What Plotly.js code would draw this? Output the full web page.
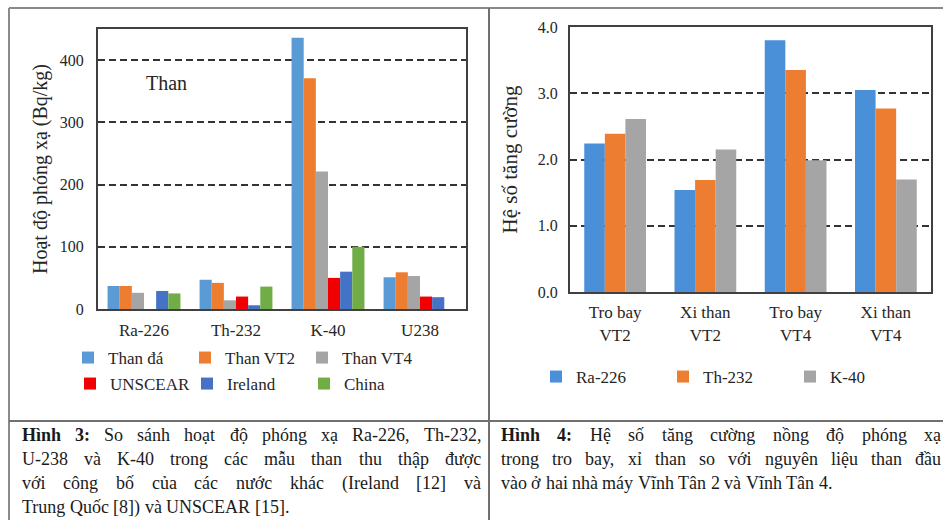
<!DOCTYPE html>
<html>
<head>
<meta charset="utf-8">
<script src="https://cdn.plot.ly/plotly-3.0.1.min.js"></script>
<style>html,body{margin:0;padding:0;background:#fff;}#chart{width:943px;height:520px;}</style>
</head>
<body>
<div id="chart"></div>
<script>
// ---------- Data (Hình 3) ----------
const elements = ['Ra-226', 'Th-232', 'K-40', 'U238'];
const thanDa  = [37, 47, 436, 51];
const thanVT2 = [37, 42, 371, 59];
const thanVT4 = [26, 14, 221, 53];
const unscear = [null, 20, 50, 20];
const ireland = [29, 6, 60, 19];
const china   = [25, 36, 100, null];
const seriesNames3 = ['Than đá', 'Than VT2', 'Than VT4', 'UNSCEAR', 'Ireland', 'China'];
const yTicks3 = [0, 100, 200, 300, 400];

// ---------- Data (Hình 4) ----------
const samples = ['Tro bay<br>VT2', 'Xi than<br>VT2', 'Tro bay<br>VT4', 'Xi than<br>VT4'];
const ra226 = [2.24, 1.54, 3.80, 3.05];
const th232 = [2.39, 1.69, 3.35, 2.77];
const k40   = [2.61, 2.15, 1.99, 1.70];
const seriesNames4 = ['Ra-226', 'Th-232', 'K-40'];
const yTicks4 = [0, 1, 2, 3, 4];

// ---------- Captions ----------
const caption3 = [
  'Hình 3:| So sánh hoạt độ phóng xạ Ra-226, Th-232,',
  'U-238 và K-40 trong các mẫu than thu thập được',
  'với công bố của các nước khác (Ireland [12] và',
  'Trung Quốc [8]) và UNSCEAR [15].'
];
const caption4 = [
  'Hình 4:| Hệ số tăng cường nồng độ phóng xạ',
  'trong tro bay, xỉ than so với nguyên liệu than đầu',
  'vào ở hai nhà máy Vĩnh Tân 2 và Vĩnh Tân 4.'
];

// ---------- Styling ----------
const W = 943, H = 520;
const FONT = 'Liberation Serif, Times New Roman, serif';
const TXT = '#262626';
const colors3 = ['#5B9BD5', '#ED7D31', '#A5A5A5', '#F00000', '#4472C4', '#70AD47'];
const colors4 = ['#4A90D9', '#ED7D31', '#A5A5A5'];
const px = v => v / W;
const py = v => 1 - v / H;

const traces = [];
const vals3 = [thanDa, thanVT2, thanVT4, unscear, ireland, china];
const bw3 = 0.132;
vals3.forEach((v, i) => {
  traces.push({
    type: 'bar', x: elements, y: v, name: seriesNames3[i],
    xaxis: 'x', yaxis: 'y',
    marker: {color: colors3[i]},
    width: bw3, offset: -3 * bw3 + i * bw3,
    legend: i < 3 ? 'legend' : 'legend2'
  });
});
const vals4 = [ra226, th232, k40];
const bw4 = 0.228;
vals4.forEach((v, i) => {
  traces.push({
    type: 'bar', x: samples, y: v, name: seriesNames4[i],
    xaxis: 'x2', yaxis: 'y2',
    marker: {color: colors4[i]},
    width: bw4, offset: -1.5 * bw4 + i * bw4,
    legend: 'legend3'
  });
});

const axisFrame = {showline: true, linecolor: '#404040', linewidth: 2, mirror: true, ticks: '', zeroline: false, fixedrange: true};
const gridStyle = {showgrid: true, gridcolor: '#333333', gridwidth: 2, griddash: '7px,4px'};

// Table borders
const lineStyle = {color: '#8a8a8a', width: 2};
const shapes = [
  {type: 'line', xref: 'paper', yref: 'paper', x0: px(9), x1: 1, y0: py(8), y1: py(8), line: lineStyle},
  {type: 'line', xref: 'paper', yref: 'paper', x0: px(9), x1: px(9), y0: py(8), y1: 0, line: lineStyle},
  {type: 'line', xref: 'paper', yref: 'paper', x0: px(489), x1: px(489), y0: py(8), y1: 0, line: {color: '#707070', width: 2}},
  {type: 'line', xref: 'paper', yref: 'paper', x0: px(9), x1: 1, y0: py(421), y1: py(421), line: {color: '#707070', width: 2}}
];

// Justified caption text as word annotations
const capSize = 18;
const ctx = document.createElement('canvas').getContext('2d');
function tw(t, bold) {
  ctx.font = (bold ? 'bold ' : '') + capSize + 'px "Liberation Serif"';
  return ctx.measureText(t).width;
}
function layoutCaption(lines, x0, x1, y0, dy) {
  const out = [];
  lines.forEach((line, li) => {
    let tokens = [];
    const parts = line.split('|');
    if (parts.length === 2) {
      parts[0].split(' ').forEach(t => tokens.push({t, b: true}));
      parts[1].trim().split(' ').forEach(t => tokens.push({t, b: false}));
    } else {
      line.split(' ').forEach(t => tokens.push({t, b: false}));
    }
    const widths = tokens.map(k => tw(k.t, k.b));
    const sum = widths.reduce((a, b) => a + b, 0);
    const last = li === lines.length - 1;
    const gap = last ? tw(' ', false) : (x1 - x0 - sum) / (tokens.length - 1);
    let x = x0;
    tokens.forEach((k, i) => {
      out.push({
        xref: 'paper', yref: 'paper', x: px(x - 2), y: py(y0 + li * dy),
        xanchor: 'left', yanchor: 'middle', showarrow: false,
        text: k.b ? '<b>' + k.t + '</b>' : k.t,
        font: {family: FONT, size: capSize, color: '#1a1a1a'}
      });
      x += widths[i] + gap;
    });
  });
  return out;
}

const annotations = [
  {xref: 'paper', yref: 'paper', x: px(166), y: py(83), xanchor: 'center', yanchor: 'middle',
   showarrow: false, text: 'Than', font: {family: FONT, size: 20, color: TXT}}
].concat(layoutCaption(caption3, 22, 481, 435, 24))
 .concat(layoutCaption(caption4, 501, 941, 435, 24));

const legendBase = {orientation: 'h', xanchor: 'left', yanchor: 'middle', bgcolor: 'rgba(0,0,0,0)',
  font: {family: FONT, size: 17, color: TXT}, entrywidthmode: 'pixels', traceorder: 'normal'};

const layout = {
  width: W, height: H,
  margin: {l: 0, r: 0, t: 0, b: 0},
  paper_bgcolor: '#ffffff', plot_bgcolor: '#ffffff',
  font: {family: FONT, size: 17, color: TXT},
  barmode: 'group',
  showlegend: true,
  hovermode: false,
  xaxis: Object.assign({}, axisFrame, {domain: [px(98), px(466)], anchor: 'y', type: 'category',
    tickfont: {family: FONT, size: 17, color: TXT}, showgrid: false, ticklabelstandoff: 5}),
  yaxis: Object.assign({}, axisFrame, gridStyle, {domain: [py(309), py(29)], anchor: 'x', range: [0, 450],
    tickvals: yTicks3, tickfont: {family: FONT, size: 16, color: TXT}, ticklabelstandoff: 9,
    title: {text: 'Hoạt độ phóng xạ (Bq/kg)', font: {family: FONT, size: 20, color: TXT}}}),
  xaxis2: Object.assign({}, axisFrame, {domain: [px(570), px(931)], anchor: 'y2', type: 'category',
    tickfont: {family: FONT, size: 17, color: TXT}, showgrid: false, ticklabelstandoff: 4}),
  yaxis2: Object.assign({}, axisFrame, gridStyle, {domain: [py(292), py(27)], anchor: 'x2', range: [0, 4],
    tickvals: yTicks4, tickformat: '.1f', tickfont: {family: FONT, size: 16, color: TXT}, ticklabelstandoff: 7,
    title: {text: 'Hệ số tăng cường', font: {family: FONT, size: 21, color: TXT}}}),
  legend: Object.assign({}, legendBase, {x: px(68), y: py(358), entrywidth: 72}),
  legend2: Object.assign({}, legendBase, {x: px(70), y: py(384), entrywidth: 72}),
  legend3: Object.assign({}, legendBase, {x: px(536), y: py(377), entrywidth: 82}),
  shapes: shapes,
  annotations: annotations
};

Plotly.newPlot('chart', traces, layout, {displayModeBar: false, staticPlot: true});
</script>
</body>
</html>
